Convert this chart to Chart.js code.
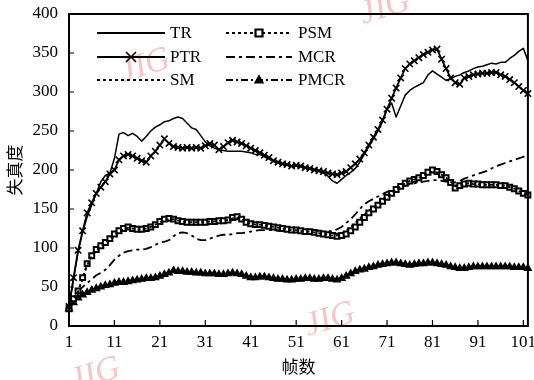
<!DOCTYPE html>
<html>
<head>
<meta charset="utf-8">
<script src="https://cdn.jsdelivr.net/npm/chart.js@4.4.1/dist/chart.umd.min.js"></script>
<style>
html,body{margin:0;padding:0;background:#fff;}
canvas{display:block;}
</style>
</head>
<body>
<canvas id="c" width="534" height="380"></canvas>
<script>
const frames = [1,2,3,4,5,6,7,8,9,10,11,12,13,14,15,16,17,18,19,20,21,22,23,24,25,26,27,28,29,30,31,32,33,34,35,36,37,38,39,40,41,42,43,44,45,46,47,48,49,50,51,52,53,54,55,56,57,58,59,60,61,62,63,64,65,66,67,68,69,70,71,72,73,74,75,76,77,78,79,80,81,82,83,84,85,86,87,88,89,90,91,92,93,94,95,96,97,98,99,100,101,102];
const xTickLabels = [1,11,21,31,41,51,61,71,81,91,101];
const yTickValues = [0,50,100,150,200,250,300,350,400];

const TR = [25,60,95,120,140,155,170,185,193,196,215,246,248,244,247,243,237,243,250,255,258,262,263,266,268,266,260,254,252,244,236,231,228,226,225,224,224,224,224,223,222,220,220,217,214,211,209,207,206,205,205,204,203,202,201,199,196,192,186,183,188,193,197,202,210,220,230,240,250,262,278,286,268,282,296,302,306,309,312,322,327,323,319,315,317,320,322,325,327,330,332,333,335,337,336,338,338,343,347,352,356,340];
const PTR = [25,62,97,122,145,158,170,178,185,195,200,213,218,220,218,215,212,210,218,224,232,240,234,230,229,228,229,228,229,228,231,234,232,226,230,235,238,236,234,231,228,225,222,219,216,212,210,208,207,205,206,205,203,202,200,199,198,196,195,194,196,198,203,208,214,222,232,242,252,264,278,292,305,318,330,336,340,344,348,351,354,355,342,330,318,312,310,318,320,322,323,324,324,325,325,322,320,316,312,307,302,298];
const SM = [22,34,44,60,78,89,97,102,106,111,117,121,124,126,125,124,124,125,127,130,133,136,137,137,135,134,133,133,133,133,133,134,134,135,135,136,138,139,137,133,131,130,130,129,128,127,126,125,124,123,123,122,121,121,120,119,118,117,116,116,118,122,127,132,138,143,148,152,157,161,166,170,175,179,183,186,188,190,193,196,198,197,194,190,185,179,180,182,183,182,182,181,181,181,181,180,180,178,176,173,170,168];
const PSM = [22,35,45,62,80,90,98,103,107,112,118,122,125,127,125,124,124,125,127,130,134,137,138,137,135,134,133,133,133,133,133,134,134,135,135,136,139,140,137,133,131,130,130,129,128,127,126,125,124,123,123,122,121,121,120,119,118,117,116,115,116,118,122,127,133,139,145,150,155,160,165,170,175,179,183,186,188,190,193,197,200,198,194,190,184,177,180,182,183,182,182,181,181,181,181,180,180,178,176,173,170,168];
const MCR = [22,35,45,50,55,60,65,68,72,78,85,90,94,96,97,98,98,99,101,104,107,108,110,115,119,120,119,116,112,110,110,112,114,116,117,117,118,119,119,120,121,122,123,123,123,123,122,122,122,121,121,121,120,120,120,120,121,121,122,124,127,132,137,143,150,156,160,163,166,169,172,174,176,178,180,182,183,184,185,186,187,187,186,185,184,184,186,189,191,193,195,197,199,202,205,207,209,211,213,215,217,218];
const PMCR = [22,30,36,40,43,46,48,50,52,53,55,56,56,57,58,59,60,61,61,62,64,66,68,71,70,70,69,69,68,68,67,67,67,66,66,67,68,67,66,64,62,62,63,63,62,61,60,60,59,59,60,60,61,61,60,60,61,61,60,59,61,64,67,70,72,73,75,76,78,79,80,81,81,80,79,78,79,80,80,81,81,80,79,78,76,75,74,74,75,76,76,76,76,76,76,76,76,76,75,75,75,74];

const FONT = "'Liberation Serif', 'Times New Roman', serif";
const CJK = "'Noto Sans CJK SC', sans-serif";

const datasets = [
  {label:'TR', data:TR, borderColor:'#000', borderWidth:1.5, pointRadius:0, tension:0},
  {label:'PTR', data:PTR, borderColor:'#000', borderWidth:1.8, pointStyle:'crossRot', pointRadius:4.5, pointBorderWidth:1.6, pointBorderColor:'#000', tension:0},
  {label:'SM', data:SM, borderColor:'#000', borderWidth:1.8, borderDash:[3,3], pointRadius:0, tension:0},
  {label:'PSM', data:PSM, borderColor:'#000', borderWidth:1.8, borderDash:[3,3], pointStyle:'rect', pointRadius:3.5, pointBorderWidth:2, pointBorderColor:'#000', pointBackgroundColor:'#fff', tension:0},
  {label:'MCR', data:MCR, borderColor:'#000', borderWidth:1.8, borderDash:[9,4,3,4], pointRadius:0, tension:0},
  {label:'PMCR', data:PMCR, borderColor:'#000', borderWidth:1.8, borderDash:[7,3,2,3], pointStyle:'triangle', pointRadius:4, pointBorderWidth:1.2, pointBorderColor:'#000', pointBackgroundColor:'#000', tension:0}
];

function drawMarker(ctx, style, x, y, r, fill) {
  ctx.save();
  ctx.setLineDash([]);
  ctx.lineWidth = 1.6;
  ctx.strokeStyle = '#000';
  ctx.fillStyle = fill;
  ctx.beginPath();
  if (style === 'crossRot') {
    ctx.moveTo(x-r,y-r); ctx.lineTo(x+r,y+r);
    ctx.moveTo(x+r,y-r); ctx.lineTo(x-r,y+r);
    ctx.stroke();
  } else if (style === 'rect') {
    ctx.rect(x-r,y-r,2*r,2*r); ctx.fill(); ctx.lineWidth=2.2; ctx.stroke();
  } else if (style === 'triangle') {
    ctx.moveTo(x,y-r*1.2); ctx.lineTo(x+r*1.1,y+r*0.8); ctx.lineTo(x-r*1.1,y+r*0.8); ctx.closePath(); ctx.fill(); ctx.stroke();
  }
  ctx.restore();
}

const legendPlugin = {
  id:'customLegend',
  afterDraw(chart) {
    const ctx = chart.ctx;
    const cols = [{x0:97,x1:165,tx:170},{x0:226,x1:292,tx:298}];
    const rows = [33,57,80];
    const order = [[0,0,0],[1,0,1],[2,0,2],[3,1,0],[4,1,1],[5,1,2]];
    order.forEach(([di,c,r]) => {
      const ds = chart.data.datasets[di];
      const col = cols[c], y = rows[r];
      ctx.save();
      ctx.strokeStyle = '#000';
      ctx.lineWidth = ds.borderWidth + 0.3;
      ctx.setLineDash(ds.borderDash || []);
      ctx.beginPath(); ctx.moveTo(col.x0,y); ctx.lineTo(col.x1,y); ctx.stroke();
      ctx.restore();
      if (ds.pointRadius > 0) {
        drawMarker(ctx, ds.pointStyle, (col.x0+col.x1)/2, y, ds.pointStyle==='crossRot'?5:3.5, ds.pointBackgroundColor || '#000');
      }
      ctx.save();
      ctx.fillStyle = '#000';
      ctx.font = "17px " + FONT;
      ctx.textBaseline = 'middle';
      ctx.textAlign = 'left';
      ctx.fillText(ds.label, col.tx, y+1);
      ctx.restore();
    });
  }
};

const framePlugin = {
  id:'frameTicks',
  afterDraw(chart) {
    const {ctx, chartArea:{left,top,right,bottom}, scales:{x,y}} = chart;
    ctx.save();
    ctx.strokeStyle = '#000';
    ctx.setLineDash([]);
    ctx.lineWidth = 2;
    ctx.strokeRect(left, top, right-left, bottom-top);
    ctx.lineWidth = 1.2;
    ctx.beginPath();
    yTickValues.forEach(v => { const py = y.getPixelForValue(v); ctx.moveTo(left, py); ctx.lineTo(left+5, py); });
    xTickLabels.forEach(f => { const px = x.getPixelForValue(frames.indexOf(f)); ctx.moveTo(px, bottom); ctx.lineTo(px, bottom-6); });
    ctx.stroke();
    ctx.restore();
  }
};

const watermarkPlugin = {
  id:'watermark',
  beforeDatasetsDraw(chart) {
    const ctx = chart.ctx;
    const marks = [[145,66],[385,8],[95,375],[330,320]];
    ctx.save();
    ctx.fillStyle = 'rgba(240,150,150,0.55)';
    ctx.font = "italic 34px " + FONT;
    ctx.textAlign = 'center';
    ctx.textBaseline = 'middle';
    marks.forEach(([mx,my]) => {
      ctx.save(); ctx.translate(mx,my); ctx.rotate(-0.3); ctx.fillText('JIG',0,0); ctx.restore();
    });
    ctx.restore();
  }
};

new Chart(document.getElementById('c'), {
  type:'line',
  data:{ labels: frames, datasets },
  options:{
    responsive:false,
    animation:false,
    devicePixelRatio:1,
    layout:{ padding:{ top:14, right:5, bottom:0, left:0 } },
    plugins:{ legend:{display:false}, tooltip:{enabled:false} },
    elements:{ line:{ borderJoinStyle:'round' } },
    scales:{
      x:{
        type:'category',
        offset:false,
        grid:{display:false, drawTicks:false},
        border:{display:false},
        ticks:{
          autoSkip:false, maxRotation:0, minRotation:0, padding:6, color:'#000',
          font:{family:FONT, size:17},
          callback:(v, i) => xTickLabels.includes(frames[i]) ? String(frames[i]) : null
        },
        title:{ display:true, text:'帧数', color:'#000', font:{family:CJK, size:17}, padding:{top:0,bottom:3} },
        afterFit(s){ s.height = 54; s.paddingLeft = 0; s.paddingRight = 0; }
      },
      y:{
        min:0, max:400,
        grid:{display:false, drawTicks:false},
        border:{display:false},
        ticks:{ stepSize:50, padding:11, color:'#000', font:{family:FONT, size:17} },
        title:{ display:true, text:'失真度', color:'#000', font:{family:CJK, size:17}, padding:{top:4,bottom:0} },
        afterFit(s){ s.width = 69; s.paddingTop = 0; s.paddingBottom = 0; }
      }
    }
  },
  plugins:[watermarkPlugin, framePlugin, legendPlugin]
});
</script>
</body>
</html>
